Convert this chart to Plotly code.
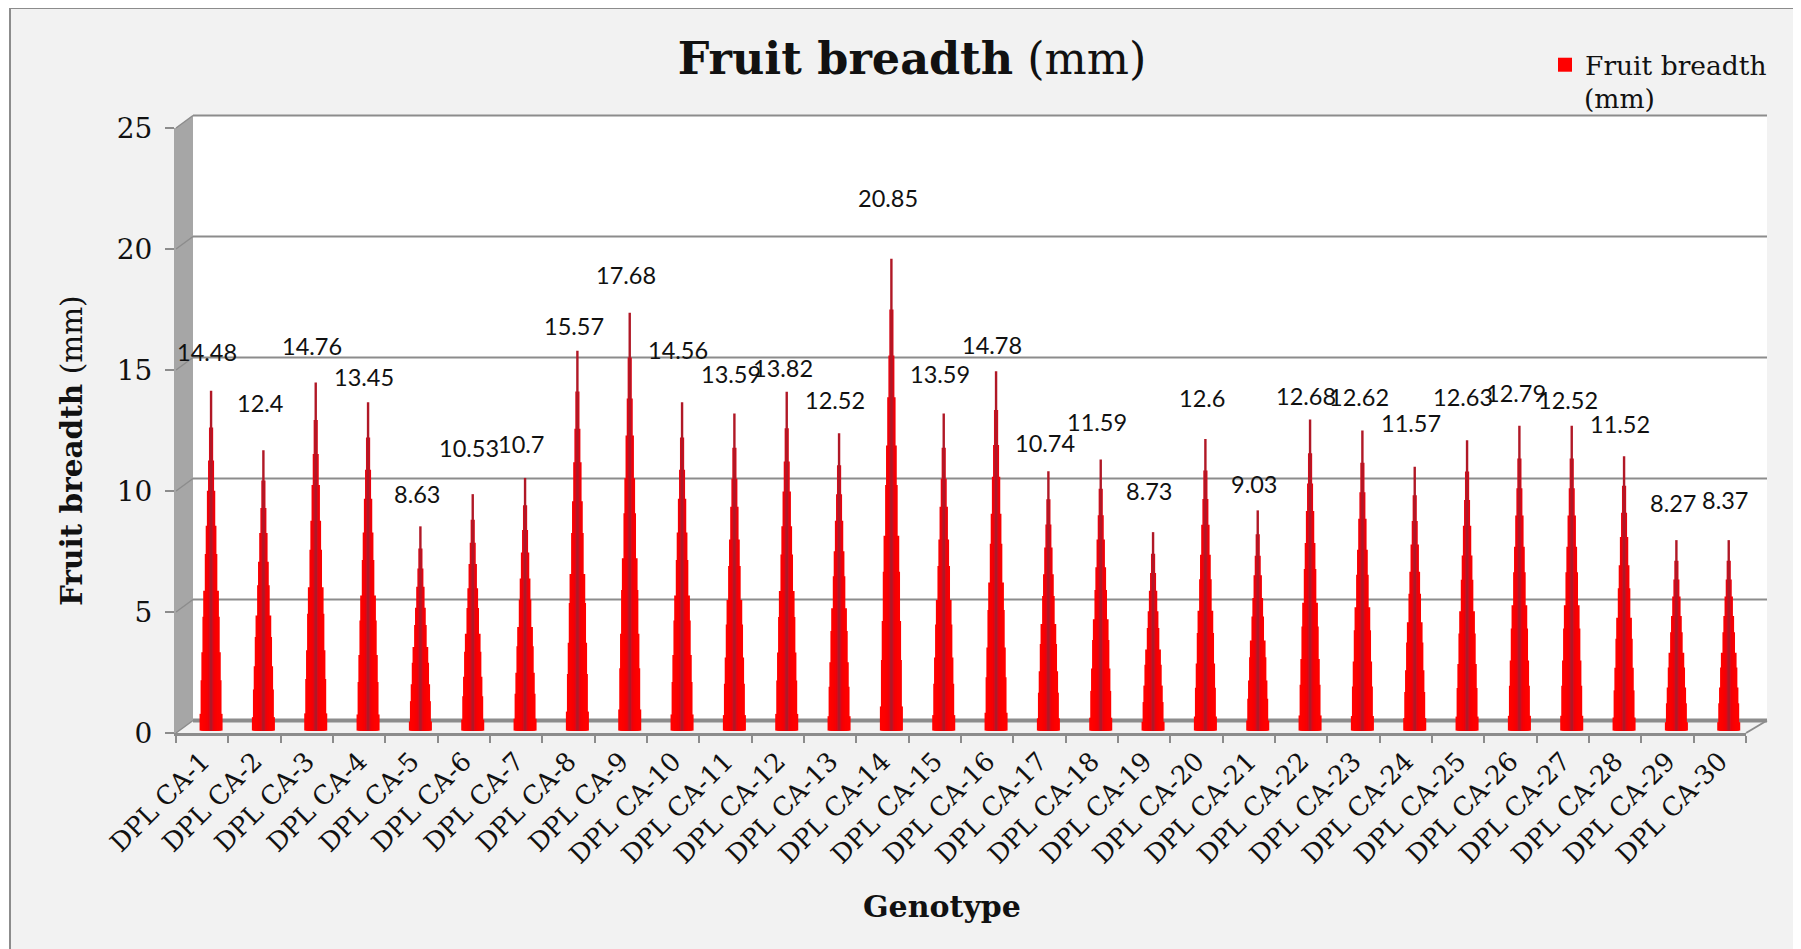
import plotly.graph_objects as go

genotypes = [f"DPL CA-{i}" for i in range(1, 31)]

# printed data labels
label_values = [14.48, 12.4, 14.76, 13.45, 8.63, 10.53, 10.7, 15.57, 17.68, 14.56,
                13.59, 13.82, 12.52, 20.85, 13.59, 14.78, 10.74, 11.59, 8.73, 12.6,
                9.03, 12.68, 12.62, 11.57, 12.63, 12.79, 12.52, 11.52, 8.27, 8.37]

# cone heights as they are drawn against the front axis
drawn_heights = [14.14, 11.68, 14.48, 13.67, 8.54, 9.87, 10.54, 15.8, 17.37, 13.67,
                 13.2, 14.1, 12.39, 19.6, 13.2, 14.95, 10.82, 11.3, 8.3, 12.15,
                 9.2, 12.95, 12.5, 11.0, 12.1, 12.7, 12.7, 11.44, 7.97, 7.97]

y_ticks = [0, 5, 10, 15, 20, 25]

# stepped cone: top of each band as a share of the height, and its width
step_tops = [0.056, 0.154, 0.236, 0.34, 0.416, 0.523, 0.606, 0.708, 0.796, 0.893, 1.0]
step_widths = [0.44, 0.4, 0.37, 0.33, 0.3, 0.24, 0.205, 0.16, 0.115, 0.08, 0.046]
step_colors = ["#ff0000", "#ff0000", "#ff0000", "#ff0000", "#fd0000", "#fb0000",
               "#f80002", "#f40006", "#ec000c", "#d80c1a", "#b01826"]

# pixel frame of the front axes
LEFT, RIGHT, TOP, BOTTOM = 176, 1746, 128, 733
BODY = 8
WIDTH, HEIGHT = 1801 - BODY, 949 - BODY
WALL_DX, WALL_DY = 17, 12.5
GREY = "#8c8c8c"
SERIF = "DejaVu Serif"
INK = "#111111"


def px(x):
    return (x - LEFT) / (RIGHT - LEFT)


def py(y):
    return (BOTTOM - y) / (BOTTOM - TOP)


def poly(points):
    return "M" + "L".join(f"{px(x)},{py(y)}" for x, y in points) + "Z"


def y_pix(v):
    return BOTTOM - v / y_ticks[-1] * (BOTTOM - TOP)


base = 0.1
bar_shift = 0.17

fig = go.Figure()

for top, w, c in zip(step_tops, step_widths, step_colors):
    fig.add_trace(go.Bar(
        x=genotypes,
        y=[h * top - base for h in drawn_heights],
        base=base,
        width=w,
        offset=bar_shift - w / 2,
        marker=dict(color=c, line=dict(width=0)),
        showlegend=False,
        hoverinfo="skip",
    ))

# legend swatch only
fig.add_trace(go.Scatter(x=[None], y=[None], mode="markers", name="Fruit breadth",
                         marker=dict(symbol="square", size=14, color="#ff0000")))

shapes = [
    # frame
    dict(type="rect", xref="paper", yref="paper", x0=px(10), x1=px(1900), y0=py(8), y1=py(1100),
         fillcolor="#f2f2f2", line=dict(color=GREY, width=2), layer="below"),
    # back wall
    dict(type="path", xref="paper", yref="paper",
         path=poly([(LEFT + WALL_DX, TOP - WALL_DY), (RIGHT + WALL_DX + 4, TOP - WALL_DY),
                    (RIGHT + WALL_DX + 4, BOTTOM - WALL_DY), (LEFT + WALL_DX, BOTTOM - WALL_DY)]),
         fillcolor="white", line=dict(width=0), layer="below"),
    # side wall
    dict(type="path", xref="paper", yref="paper",
         path=poly([(LEFT, TOP), (LEFT + WALL_DX, TOP - WALL_DY),
                    (LEFT + WALL_DX, BOTTOM - WALL_DY), (LEFT, BOTTOM)]),
         fillcolor="#a6a6a6", line=dict(width=0), layer="below"),
    # right floor edge
    dict(type="line", xref="paper", yref="paper", x0=px(RIGHT), y0=py(BOTTOM),
         x1=px(RIGHT + WALL_DX + 4), y1=py(BOTTOM - WALL_DY),
         line=dict(color=GREY, width=2), layer="below"),
]

for v in y_ticks:
    y = y_pix(v)
    # back wall gridline and its step across the side wall
    shapes.append(dict(type="line", xref="paper", yref="paper",
                       x0=px(LEFT + WALL_DX), x1=px(RIGHT + WALL_DX + 4),
                       y0=py(y - WALL_DY), y1=py(y - WALL_DY),
                       line=dict(color=GREY, width=4 if v == 0 else 2), layer="below"))
    shapes.append(dict(type="line", xref="paper", yref="paper",
                       x0=px(LEFT), x1=px(LEFT + WALL_DX), y0=py(y), y1=py(y - WALL_DY),
                       line=dict(color=GREY, width=1.5), layer="below"))

annotations = [
    dict(x=g, y=v + 1.25, text=str(v), showarrow=False, xshift=5,
         font=dict(family="Lato", size=23.5, color=INK))
    for g, v in zip(genotypes, label_values)
]
annotations += [
    # axis titles sit off-centre in the reference
    dict(xref="paper", yref="paper", x=px(71), y=py(451), text="<b>Fruit breadth</b> (mm)",
         xanchor="center", yanchor="middle", textangle=-90, showarrow=False,
         font=dict(family=SERIF, size=29.5, color=INK)),
    dict(xref="paper", yref="paper", x=px(942), y=py(906), text="<b>Genotype</b>",
         xanchor="center", yanchor="middle", showarrow=False,
         font=dict(family=SERIF, size=30, color=INK)),
    # second line of the legend entry
    dict(xref="paper", yref="paper", x=px(1582), y=py(99), text="(mm)",
         xanchor="left", yanchor="middle", showarrow=False,
         font=dict(family=SERIF, size=26.5, color=INK)),
]

fig.update_layout(
    width=WIDTH,
    height=HEIGHT,
    margin=dict(l=LEFT - BODY, r=1801 - RIGHT, t=TOP - BODY, b=949 - BOTTOM),
    paper_bgcolor="white",
    plot_bgcolor="rgba(0,0,0,0)",
    barmode="overlay",
    shapes=shapes,
    annotations=annotations,
    title=dict(text="<b>Fruit breadth</b> (mm)", x=(912 - BODY) / WIDTH, xanchor="center",
               y=1 - (58 - BODY) / HEIGHT, yanchor="middle",
               font=dict(family=SERIF, size=44.5, color=INK)),
    legend=dict(x=px(1545), y=py(41), xanchor="left", yanchor="top", bgcolor="rgba(0,0,0,0)",
                font=dict(family=SERIF, size=26.5, color=INK), itemwidth=30),
    font=dict(family=SERIF, color=INK),
)
fig.update_xaxes(type="category", categoryorder="array", categoryarray=genotypes,
                 range=[-0.5, len(genotypes) - 0.5],
                 tickson="boundaries", ticks="outside", ticklen=7, tickcolor=GREY, tickwidth=2,
                 showline=True, linecolor=GREY, linewidth=2.5, showgrid=False, zeroline=False,
                 tickangle=-45, tickfont=dict(family=SERIF, size=26, color=INK))
fig.update_yaxes(range=[0, y_ticks[-1]], tickvals=y_ticks, ticks="outside", ticklen=9,
                 tickcolor=GREY, tickwidth=1.5, showline=True, linecolor="#a6a6a6", linewidth=2,
                 showgrid=False, zeroline=False, ticklabelstandoff=7,
                 tickfont=dict(family=SERIF, size=28, color=INK))

fig.write_html("out.html")
